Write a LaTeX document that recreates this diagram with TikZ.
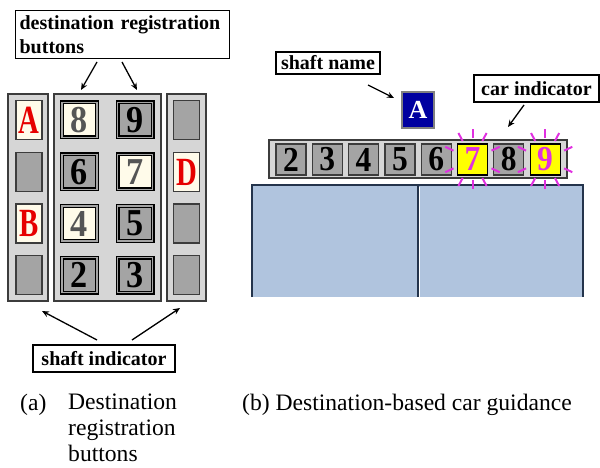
\documentclass[tikz,border=0pt]{standalone}
\usepackage{fontspec}
\setmainfont{Liberation Serif}
\usetikzlibrary{arrows.meta,calc}

\definecolor{panelgray}{HTML}{D6D6D6}
\definecolor{panelline}{HTML}{3C3C3C}
\definecolor{btngray}{HTML}{A4A4A4}
\definecolor{btncream}{HTML}{FFFBEA}
\definecolor{digitgray}{HTML}{555555}
\definecolor{shaftred}{HTML}{E60000}
\definecolor{lampyellow}{HTML}{FFFF00}
\definecolor{sparkpink}{HTML}{E030E0}
\definecolor{nameblue}{HTML}{0000A0}
\definecolor{hallblue}{HTML}{B0C4DE}
\definecolor{hallline}{HTML}{24344C}

\newcommand{\slim}[2]{\scalebox{#1}[1]{#2}}

\tikzset{
  callout/.style={draw, line width=1.2pt, fill=white,
    font=\fontsize{20}{24}\selectfont\bfseries, inner xsep=4pt},
  oneline/.style={text height=14pt, text depth=0pt},
  pointer/.style={-{Stealth[length=7pt,width=6pt]}, line width=1.3pt},
  panel/.style={draw=panelline, fill=panelgray, line width=1.5pt},
  shaftkey/.style={draw=panelline, fill=btngray, line width=1.2pt,
    minimum width=26pt, minimum height=39pt, inner sep=0pt,
    font=\fontsize{40}{40}\selectfont\bfseries, text=shaftred},
  floorkey/.style={draw=black, double=btngray, double distance=1.4pt,
    line width=1.3pt, fill=btngray, minimum size=35pt, inner sep=0pt,
    font=\fontsize{38}{38}\selectfont\bfseries},
  lit/.style={fill=btncream, text=digitgray},
  stripcell/.style={draw=panelline, fill=btngray, line width=1.2pt,
    minimum width=30pt, minimum height=31pt, inner sep=0pt,
    font=\fontsize{35}{35}\selectfont\bfseries},
  lamp/.style={fill=lampyellow, draw=black, text=sparkpink},
  spark/.style={draw=sparkpink, line width=2pt},
  caption/.style={font=\fontsize{23.6}{26}\selectfont, inner sep=0pt}
}

\begin{document}
\begin{tikzpicture}[x=1pt,y=-1pt]
  \useasboundingbox (0,0) rectangle (600,468);

  %% (a) destination registration buttons
  \draw[panel] (8,94) rectangle (48,301);
  \draw[panel] (54,94) rectangle (161,301);
  \draw[panel] (167,94) rectangle (206,301);
  % shaft indicators
  \node[shaftkey,fill=btncream] (sA) at (29,120) {\slim{0.72}{A}};
  \node[shaftkey] (sL2) at (29,172) {};
  \node[shaftkey,fill=btncream] (sB) at (29,223.5) {\slim{0.72}{B}};
  \node[shaftkey] (sL4) at (29,275) {};
  \node[shaftkey] (sR1) at (186.5,120) {};
  \node[shaftkey,fill=btncream] (sD) at (186.5,172) {\slim{0.72}{D}};
  \node[shaftkey] (sR3) at (186.5,223.5) {};
  \node[shaftkey] (sR4) at (186.5,275) {};
  % floor buttons
  \node[floorkey,lit] (b8) at (79.5,120) {\slim{0.9}{8}};
  \node[floorkey] (b9) at (135,120) {\slim{0.9}{9}};
  \node[floorkey] (b6) at (79.5,172) {\slim{0.9}{6}};
  \node[floorkey,lit] (b7) at (135,172) {\slim{0.9}{7}};
  \node[floorkey,lit] (b4) at (79.5,223.5) {\slim{0.9}{4}};
  \node[floorkey] (b5) at (135,223.5) {\slim{0.9}{5}};
  \node[floorkey] (b2) at (79.5,275) {\slim{0.9}{2}};
  \node[floorkey] (b3) at (135,275) {\slim{0.9}{3}};

  \node[callout,anchor=north west,text width=206pt,align=left,inner ysep=5pt]
    (dreg) at (15,10) {destination registration\\buttons};
  \coordinate (dregL) at (97,62);
  \coordinate (dregR) at (122,62);
  \coordinate (keysL) at (81,90);
  \coordinate (keysR) at (137,90);
  \draw[pointer] (dregL) -- (keysL);
  \draw[pointer] (dregR) -- (keysR);

  \node[callout,oneline,inner ysep=6.5pt,minimum width=142pt] (sind) at (104,358.5) {shaft indicator};
  \coordinate (sindL) at (97,340);
  \coordinate (sindR) at (132,340);
  \coordinate (colL) at (42,311);
  \coordinate (colR) at (180,308);
  \draw[pointer] (sindL) -- (colL);
  \draw[pointer] (sindR) -- (colR);

  %% (b) car guidance
  \fill[hallblue] (252,185) rectangle (583,297);
  \draw[hallline,line width=1.5pt] (252,297) -- (252,185) -- (583,185) -- (583,297);
  \draw[hallline,line width=1.5pt] (418,185) -- (418,297);
  \draw[white,line width=0.8pt] (419.6,187) -- (419.6,297);

  \node[draw=panelline,fill=panelgray,line width=1.2pt,minimum width=298pt,minimum height=38pt]
    (strip) at (418,159) {};
  \node[stripcell] (c2) at (291,159.5) {\slim{0.9}{2}};
  \node[stripcell] (c3) at (327.3,159.5) {\slim{0.9}{3}};
  \node[stripcell] (c4) at (363.6,159.5) {\slim{0.9}{4}};
  \node[stripcell] (c5) at (399.9,159.5) {\slim{0.9}{5}};
  \node[stripcell] (c6) at (436.2,159.5) {\slim{0.9}{6}};
  \node[stripcell,lamp] (c7) at (472.5,159.5) {\slim{0.9}{7}};
  \node[stripcell] (c8) at (508.8,159.5) {\slim{0.9}{8}};
  \node[stripcell,lamp] (c9) at (545.1,159.5) {\slim{0.9}{9}};
  \foreach \cell in {c7,c9}
    \foreach \ang in {25,62,90,118,155,205,242,270,298,335}
      \draw[spark] ($(\cell)+(\ang:21)$) -- ($(\cell)+(\ang:30)$);

  \node[draw=gray,fill=nameblue,line width=1.5pt,minimum width=32pt,minimum height=36pt,
    inner sep=0pt,text=white,font=\fontsize{26}{26}\selectfont\bfseries] (shA) at (418,110) {A};

  \node[callout,oneline,inner ysep=4pt,minimum width=104pt] (sname) at (328,63) {shaft name};
  \coordinate (snameT) at (368,85);
  \coordinate (shAW) at (394,98);
  \draw[pointer] (snameT) -- (shAW);

  \node[callout,oneline,inner ysep=6.5pt,minimum width=125pt] (cind) at (536.5,88.5) {car indicator};
  \coordinate (cindT) at (524,105);
  \coordinate (c8top) at (508,127);
  \draw[pointer] (cindT) -- (c8top);

  %% captions
  \node[caption,anchor=base west] (capa) at (20,410) {(a)};
  \node[caption,anchor=north west,align=left] (capatxt) at (68,394)
    {Destination\\registration\\buttons};
  \node[caption,anchor=base west] (capb) at (242,410) {(b) Destination-based car guidance};
\end{tikzpicture}
\end{document}
